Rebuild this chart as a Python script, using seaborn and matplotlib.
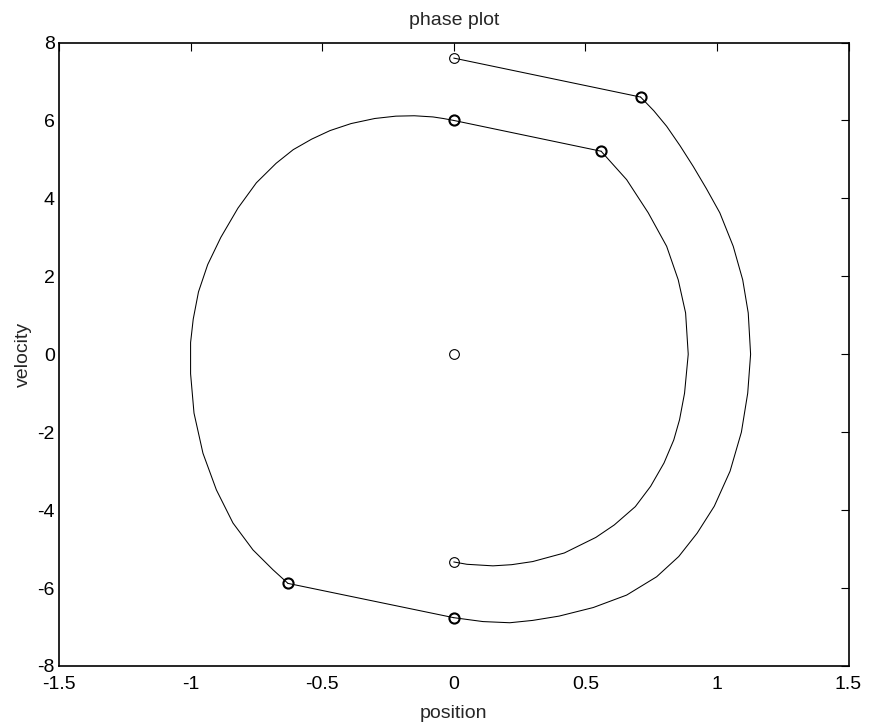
import matplotlib
matplotlib.use("Agg")
import matplotlib.pyplot as plt
import seaborn as sns
import pandas as pd

# Trajectory arcs in the (position, velocity) plane
outer_pos = [0.71, 0.76, 0.809, 0.86, 0.91, 0.96, 1.011, 1.062, 1.098, 1.119, 1.128,
             1.117, 1.093, 1.05, 0.99, 0.925, 0.855, 0.771, 0.657, 0.53, 0.40, 0.30,
             0.213, 0.111, 0.0]
outer_vel = [6.6, 6.25, 5.85, 5.35, 4.82, 4.25, 3.63, 2.77, 1.91, 1.06, 0.0,
             -1.0, -2.0, -3.0, -3.9, -4.59, -5.19, -5.71, -6.18, -6.5, -6.72, -6.83,
             -6.89, -6.86, -6.76]

inner_pos = [0.56, 0.657, 0.739, 0.809, 0.853, 0.881, 0.891, 0.877, 0.858, 0.836,
             0.799, 0.748, 0.69, 0.61, 0.54, 0.42, 0.30, 0.22, 0.149, 0.05, 0.0]
inner_vel = [5.21, 4.48, 3.63, 2.77, 1.91, 1.06, 0.0, -1.0, -1.68, -2.2,
             -2.79, -3.39, -3.91, -4.38, -4.70, -5.10, -5.32, -5.40, -5.43, -5.39, -5.33]

left_pos = [-0.63, -0.687, -0.763, -0.839, -0.902, -0.953, -0.987, -1.0, -1.0, -0.99,
            -0.97, -0.935, -0.885, -0.82, -0.75, -0.675, -0.61, -0.54, -0.47, -0.39,
            -0.30, -0.22, -0.15, -0.079, -0.04, 0.0]
left_vel = [-5.88, -5.53, -5.02, -4.33, -3.48, -2.54, -1.51, -0.5, 0.3, 0.9,
            1.6, 2.3, 3.0, 3.75, 4.4, 4.9, 5.25, 5.52, 5.74, 5.92,
            6.05, 6.11, 6.12, 6.09, 6.05, 6.0]

# Impact jumps (straight segments)
jump_pos = [[0.0, 0.71], [0.0, 0.56], [-0.63, 0.0]]
jump_vel = [[7.6, 6.6], [6.0, 5.21], [-5.88, -6.76]]

# Marked states
single_pos = [0.0, 0.0, 0.0]
single_vel = [7.6, 0.0, -5.33]
double_pos = [0.71, 0.56, 0.0, -0.63, 0.0]
double_vel = [6.6, 5.21, 6.0, -5.88, -6.76]

x_ticks = [-1.5, -1, -0.5, 0, 0.5, 1, 1.5]
x_tick_labels = ["-1.5", "-1", "-0.5", "0", "0.5", "1", "1.5"]
y_ticks = [-8, -6, -4, -2, 0, 2, 4, 6, 8]
y_tick_labels = ["-8", "-6", "-4", "-2", "0", "2", "4", "6", "8"]

sns.set_style("white")
plt.rcParams["font.family"] = ["Liberation Sans", "DejaVu Sans"]

fig = plt.figure(figsize=(8.69, 7.26), dpi=100)
ax = fig.add_axes([59 / 869, 1 - 666 / 726, (848.5 - 59) / 869, (666 - 42.5) / 726])

line_kw = dict(color="black", linewidth=0.75, sort=False, estimator=None, ax=ax, legend=False)
for px, pv in [(outer_pos, outer_vel), (inner_pos, inner_vel), (left_pos, left_vel)]:
    sns.lineplot(data=pd.DataFrame({"x": px, "v": pv}), x="x", y="v", **line_kw)
for px, pv in zip(jump_pos, jump_vel):
    sns.lineplot(data=pd.DataFrame({"x": px, "v": pv}), x="x", y="v", **line_kw)

ax.plot(single_pos, single_vel, linestyle="none", marker="o", markersize=7,
        markerfacecolor="none", markeredgecolor="black", markeredgewidth=0.8)
ax.plot(double_pos, double_vel, linestyle="none", marker="o", markersize=7.3,
        markerfacecolor="none", markeredgecolor="black", markeredgewidth=1.5)

ax.set_xlim(-1.5, 1.5)
ax.set_ylim(-8, 8)
ax.set_xticks(x_ticks)
ax.set_xticklabels(x_tick_labels)
ax.set_yticks(y_ticks)
ax.set_yticklabels(y_tick_labels)
ax.tick_params(direction="in", length=5.5, width=0.8, top=True, right=True,
               labelsize=14, colors="black")
ax.tick_params(axis="x", pad=7.5)
ax.tick_params(axis="y", pad=3)
for s in ax.spines.values():
    s.set_visible(True)
    s.set_color("black")
    s.set_linewidth(1.2)

ax.set_xlabel("position", fontsize=14, labelpad=8)
ax.set_ylabel("velocity", fontsize=14, labelpad=4)
ax.set_title("phase plot", fontsize=14, pad=12.5)

fig.savefig("out.png", dpi=100, facecolor="white")
